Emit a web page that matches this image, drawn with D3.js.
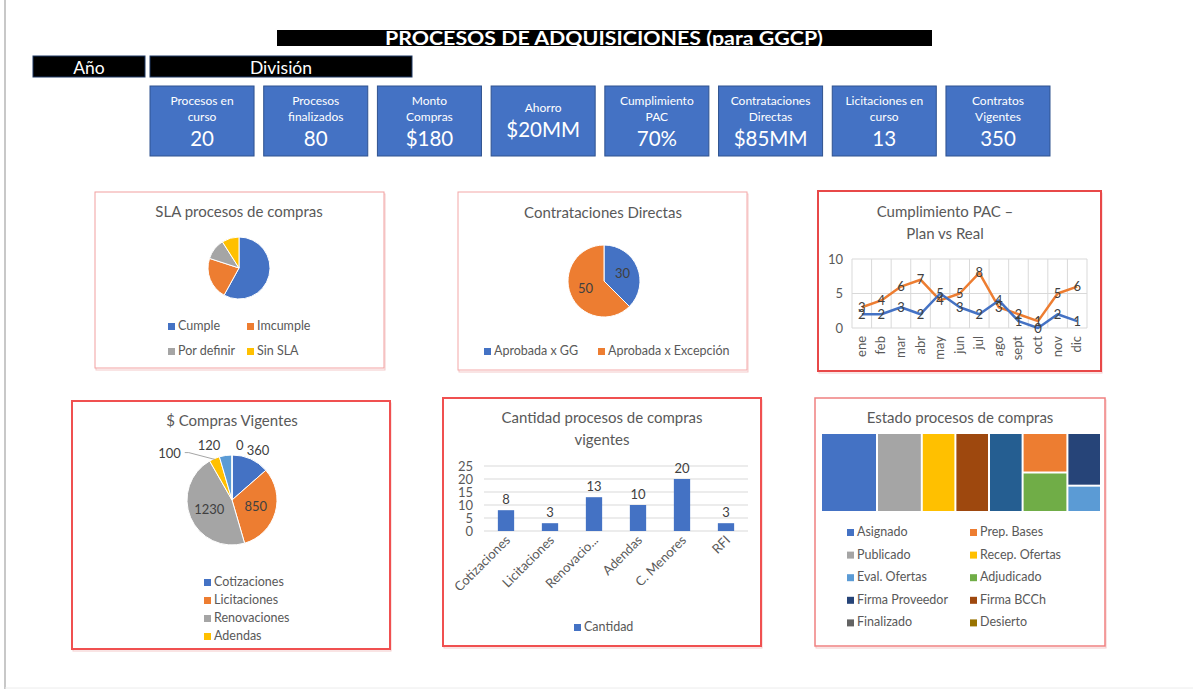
<!DOCTYPE html>
<html><head><meta charset="utf-8">
<script src="https://cdn.jsdelivr.net/npm/d3@7"></script>
<style>
body{margin:0;background:#fff}
svg{display:block}
text{font-family:Lato,'Open Sans',sans-serif}
</style>
</head><body>
<svg id="c" width="1193" height="689"></svg>
<script>
// ---------- DATA ----------
const pageTitle = "PROCESOS DE ADQUISICIONES (para GGCP)";
const filterLabels = ["Año", "División"];
const kpiLabels = [["Procesos en","curso"],["Procesos","finalizados"],["Monto","Compras"],["Ahorro"],["Cumplimiento","PAC"],["Contrataciones","Directas"],["Licitaciones en","curso"],["Contratos","Vigentes"]];
const kpiValues = ["20","80","$180","$20MM","70%","$85MM","13","350"];

const slaCategories = ["Cumple","Imcumple","Por definir","Sin SLA"];
const slaValues = [58,22,11,9];

const directCategories = ["Aprobada x GG","Aprobada x Excepción"];
const directValues = [30,50];

const months = ["ene","feb","mar","abr","may","jun","jul","ago","sept","oct","nov","dic"];
const pacPlan = [2,2,3,2,5,3,2,4,1,0,2,1];
const pacReal = [3,4,6,7,4,5,8,3,2,1,5,6];
const pacTicks = [0,5,10];

const comprasCategories = ["Cotizaciones","Licitaciones","Renovaciones","Adendas","Otros","Sin clasificar"];
const comprasValues = [360,850,1230,100,120,0];
const comprasLegendCount = 4;

const barCategories = ["Cotizaciones","Licitaciones","Renovaciones","Adendas","C. Menores","RFI"];
const barTickLabels = ["Cotizaciones","Licitaciones","Renovacio...","Adendas","C. Menores","RFI"];
const barValues = [8,3,13,10,20,3];
const barTicks = [0,5,10,15,20,25];

const estadoCategories = ["Asignado","Prep. Bases","Publicado","Recep. Ofertas","Eval. Ofertas","Adjudicado","Firma Proveedor","Firma BCCh","Finalizado","Desierto","Otros"];
const estadoValues = [25,10,20,15,5,10,10,15,0,0,15];
const estadoLegendCount = 10;

// ---------- STYLE ----------
const palette = ["#4472C4","#ED7D31","#A5A5A5","#FFC000","#5B9BD5","#70AD47","#264478","#9E480E","#636363","#997300","#255E91"];
const titleColor = "#595959", labelColor = "#404040", axisColor = "#595959", gridColor = "#D9D9D9";

const svg = d3.select("#c");

// page frame
svg.append("line").attr("x1",5).attr("x2",5).attr("y1",0).attr("y2",689).attr("stroke","#c8c8c8").attr("stroke-width",2);
svg.append("line").attr("x1",5).attr("x2",1193).attr("y1",688).attr("y2",688).attr("stroke","#ececec").attr("stroke-width",1);

// header
svg.append("rect").attr("x",277).attr("y",30).attr("width",655).attr("height",16).attr("fill","#000");
svg.append("text").attr("x",604).attr("y",45).attr("text-anchor","middle").attr("fill","#fff")
  .attr("font-size",18).attr("font-weight","bold").attr("textLength",438).attr("lengthAdjust","spacingAndGlyphs").text(pageTitle);

const filterBoxes = [{x:33,w:112},{x:150,w:262}];
filterLabels.forEach((t,i)=>{
  const b = filterBoxes[i];
  svg.append("rect").attr("x",b.x).attr("y",56).attr("width",b.w).attr("height",21).attr("fill","#000").attr("stroke","#1f3864").attr("stroke-width",1);
  svg.append("text").attr("x",b.x+b.w/2).attr("y",74).attr("text-anchor","middle").attr("fill","#fff").attr("font-size",17.5).text(t);
});

// KPI boxes
const kx = d3.scaleBand().domain(d3.range(kpiValues.length)).range([150,1050]).paddingInner(0.085).paddingOuter(0);
kpiValues.forEach((v,i)=>{
  const g = svg.append("g").attr("transform",`translate(${kx(i)},86)`);
  const w = kx.bandwidth();
  g.append("rect").attr("width",w).attr("height",70).attr("fill","#4472C4").attr("stroke","#2F528F").attr("stroke-width",1);
  const lab = kpiLabels[i];
  if (lab.length===2){
    lab.forEach((l,j)=>g.append("text").attr("x",w/2).attr("y",19+j*16).attr("text-anchor","middle").attr("fill","#fff").attr("font-size",12).text(l));
    g.append("text").attr("x",w/2).attr("y",60).attr("text-anchor","middle").attr("fill","#fff").attr("font-size",20.5).text(v);
  } else {
    g.append("text").attr("x",w/2).attr("y",26).attr("text-anchor","middle").attr("fill","#fff").attr("font-size",12).text(lab[0]);
    g.append("text").attr("x",w/2).attr("y",51).attr("text-anchor","middle").attr("fill","#fff").attr("font-size",20.5).text(v);
  }
});

function panel(x,y,w,h,stroke,sw){
  svg.append("rect").attr("x",x+1).attr("y",y+2).attr("width",w).attr("height",h).attr("fill","none").attr("stroke","#f3c9c9").attr("stroke-width",1);
  svg.append("rect").attr("x",x).attr("y",y).attr("width",w).attr("height",h).attr("fill","#fff").attr("stroke",stroke).attr("stroke-width",sw);
}
function title(lines,cx,y){
  lines.forEach((l,i)=>svg.append("text").attr("x",cx).attr("y",y+i*22).attr("text-anchor","middle").attr("fill",titleColor).attr("font-size",15).text(l));
}
function legendItem(x,y,color,label){
  svg.append("rect").attr("x",x).attr("y",y-7).attr("width",7).attr("height",7).attr("fill",color);
  svg.append("text").attr("x",x+10).attr("y",y).attr("fill",axisColor).attr("font-size",12.5).text(label);
}

// ---------- SLA pie ----------
panel(95,192,289,176,"#f2a0a0",1);
title(["SLA procesos de compras"],239,217);
{
  const pie = d3.pie().sort(null).value(d=>d)(slaValues);
  const arc = d3.arc().innerRadius(0).outerRadius(31);
  svg.append("g").attr("transform","translate(239,268)").selectAll("path").data(pie).join("path")
    .attr("d",arc).attr("fill",(d,i)=>palette[i]).attr("stroke","#fff").attr("stroke-width",1);
  const lx = [168,247], ly=[330,355];
  slaCategories.forEach((c,i)=>legendItem(lx[i%2],ly[Math.floor(i/2)],palette[i],c));
}

// ---------- Contrataciones Directas ----------
panel(458,192,289,178,"#f4a8a8",1);
title(["Contrataciones Directas"],603,218);
{
  const pie = d3.pie().sort(null).value(d=>d)(directValues);
  const arc = d3.arc().innerRadius(0).outerRadius(36);
  const lab = d3.arc().innerRadius(20).outerRadius(20);
  const g = svg.append("g").attr("transform","translate(604,281)");
  g.selectAll("path").data(pie).join("path").attr("d",arc).attr("fill",(d,i)=>palette[i]).attr("stroke","#fff").attr("stroke-width",1);
  g.selectAll("text").data(pie).join("text").attr("transform",d=>`translate(${lab.centroid(d)})`)
    .attr("text-anchor","middle").attr("dy","0.35em").attr("fill",labelColor).attr("font-size",13).text(d=>d.data);
  const lx=[484,598];
  directCategories.forEach((c,i)=>legendItem(lx[i],355,palette[i],c));
}

// ---------- PAC line ----------
panel(818,191,283,180,"#e84848",2);
title(["Cumplimiento PAC –","Plan vs Real"],945,217);
{
  const x0=852,x1=1087,y0=328,y1=259;
  const xb = d3.scaleBand().domain(months).range([x0,x1]);
  const y = d3.scaleLinear().domain([0,10]).range([y0,y1]);
  const g = svg.append("g");
  g.selectAll("line.h").data(pacTicks).join("line").attr("x1",x0).attr("x2",x1).attr("y1",d=>y(d)).attr("y2",d=>y(d)).attr("stroke",gridColor);
  g.selectAll("line.v").data(d3.range(months.length+1)).join("line").attr("class","v")
    .attr("x1",i=>x0+i*xb.step()).attr("x2",i=>x0+i*xb.step()).attr("y1",y1).attr("y2",y0).attr("stroke",gridColor);
  const yAxis = d3.axisLeft(y).tickValues(pacTicks).tickSize(0).tickPadding(9);
  const ya = g.append("g").attr("transform",`translate(${x0},0)`).call(yAxis);
  ya.select(".domain").remove();
  ya.selectAll("text").attr("fill",axisColor).attr("font-size",13).attr("font-family","Lato");
  g.selectAll("text.m").data(months).join("text").attr("class","m")
    .attr("transform",d=>`translate(${xb(d)+xb.bandwidth()/2+4},${y0+8}) rotate(-90)`)
    .attr("text-anchor","end").attr("fill",axisColor).attr("font-size",13).text(d=>d);
  const line = d3.line().x((d,i)=>xb(months[i])+xb.bandwidth()/2).y(d=>y(d));
  [[pacReal,palette[1]],[pacPlan,palette[0]]].forEach(([vals,col])=>{
    g.append("path").attr("d",line(vals)).attr("fill","none").attr("stroke",col).attr("stroke-width",2.5).attr("stroke-linejoin","round");
  });
  [[pacPlan],[pacReal]].forEach(([vals])=>{
    g.selectAll(null).data(vals).join("text").attr("x",(d,i)=>xb(months[i])+xb.bandwidth()/2).attr("y",d=>y(d))
      .attr("dy","0.35em").attr("text-anchor","middle").attr("fill",labelColor).attr("font-size",13).text(d=>d);
  });
}

// ---------- $ Compras Vigentes ----------
panel(72,401,318,248,"#f05050",2);
title(["$ Compras Vigentes"],232,426);
{
  const cx=232, cy=500, r=45;
  const pie = d3.pie().sort(null).value(d=>d)(comprasValues);
  const arc = d3.arc().innerRadius(0).outerRadius(r);
  const g = svg.append("g").attr("transform",`translate(${cx},${cy})`);
  g.selectAll("path").data(pie).join("path").attr("d",arc).attr("fill",(d,i)=>palette[i]).attr("stroke","#fff").attr("stroke-width",1);
  // label placement style: inside for large slices, outside otherwise
  const place = [{r:1.22,a:"start",dx:-8},{r:0.55,a:"middle",dx:0},{r:0.55,a:"middle",dx:0},{r:1.55,a:"end",dx:-4,leader:true},{r:1.22,a:"end",dx:-4},{r:1.22,a:"start",dx:4}];
  pie.forEach((d,i)=>{
    const p = place[i];
    const mid = (d.startAngle+d.endAngle)/2;
    const rr = r*p.r;
    let lx = Math.sin(mid)*rr, ly = -Math.cos(mid)*rr;
    if (p.leader){
      const ex = Math.sin(mid)*r*0.98, ey = -Math.cos(mid)*r*0.98;
      const lyy = -Math.cos(mid)*r*1.12;
      g.append("polyline").attr("points",`${ex},${ey} ${lx+2-18},${lyy+ -1} ${lx-18+ -2},${lyy-1}`).attr("fill","none").attr("stroke","#A6A6A6").attr("stroke-width",1);
      lx = lx-20; ly = lyy;
    }
    g.append("text").attr("x",lx+p.dx).attr("y",ly).attr("dy","0.35em").attr("text-anchor",p.a)
      .attr("fill",labelColor).attr("font-size",13).text(d.data);
  });
  comprasCategories.slice(0,comprasLegendCount).forEach((c,i)=>legendItem(204,586+i*18,palette[i],c));
}

// ---------- Bar chart ----------
panel(443,398,318,248,"#f05050",2);
title(["Cantidad procesos de compras","vigentes"],602,423);
{
  const x0=484,x1=748,y0=531,y1=466;
  const x = d3.scaleBand().domain(barCategories).range([x0,x1]).paddingInner(0.63).paddingOuter(0.315);
  const y = d3.scaleLinear().domain([0,25]).range([y0,y1]);
  const g = svg.append("g");
  g.selectAll("line.h").data(barTicks).join("line").attr("x1",x0).attr("x2",x1).attr("y1",d=>y(d)).attr("y2",d=>y(d)).attr("stroke",gridColor);
  const ya = g.append("g").attr("transform",`translate(${x0},0)`).call(d3.axisLeft(y).tickValues(barTicks).tickSize(0).tickPadding(11));
  ya.select(".domain").remove();
  ya.selectAll("text").attr("fill",axisColor).attr("font-size",13).attr("font-family","Lato");
  g.selectAll("rect.b").data(barValues).join("rect").attr("x",(d,i)=>x(barCategories[i])).attr("y",d=>y(d))
    .attr("width",x.bandwidth()).attr("height",d=>y0-y(d)).attr("fill",palette[0]);
  g.selectAll("text.v").data(barValues).join("text").attr("x",(d,i)=>x(barCategories[i])+x.bandwidth()/2).attr("y",d=>y(d)-6)
    .attr("text-anchor","middle").attr("fill",labelColor).attr("font-size",13).text(d=>d);
  g.selectAll("text.c").data(barTickLabels).join("text")
    .attr("transform",(d,i)=>`translate(${x(barCategories[i])+x.bandwidth()/2+5},${y0+10}) rotate(-45)`)
    .attr("text-anchor","end").attr("fill",axisColor).attr("font-size",13).text(d=>d);
  legendItem(574,631,palette[0],"Cantidad");
}

// ---------- Treemap ----------
panel(815,398,290,248,"#f08080",1.5);
title(["Estado procesos de compras"],960,423);
{
  // column grouping used by the chart's tiling
  const columns = [["Asignado"],["Publicado"],["Recep. Ofertas"],["Firma BCCh"],["Otros"],["Prep. Bases","Adjudicado"],["Firma Proveedor","Eval. Ofertas"]];
  const rootData = {children: columns.map(col=>({children: col.map(n=>({name:n, value: estadoValues[estadoCategories.indexOf(n)]}))}))};
  const root = d3.hierarchy(rootData).sum(d=>d.value||0);
  d3.treemap().tile(d3.treemapSliceDice).size([278,77]).paddingInner(2)(root);
  svg.append("g").attr("transform","translate(822,434)").selectAll("rect").data(root.leaves()).join("rect")
    .attr("x",d=>d.x0).attr("y",d=>d.y0).attr("width",d=>d.x1-d.x0).attr("height",d=>d.y1-d.y0)
    .attr("fill",d=>palette[estadoCategories.indexOf(d.data.name)]);
  const lx=[847,970];
  estadoCategories.slice(0,estadoLegendCount).forEach((c,i)=>legendItem(lx[i%2],536+Math.floor(i/2)*22.6,palette[i],c));
}
</script>
</body></html>
